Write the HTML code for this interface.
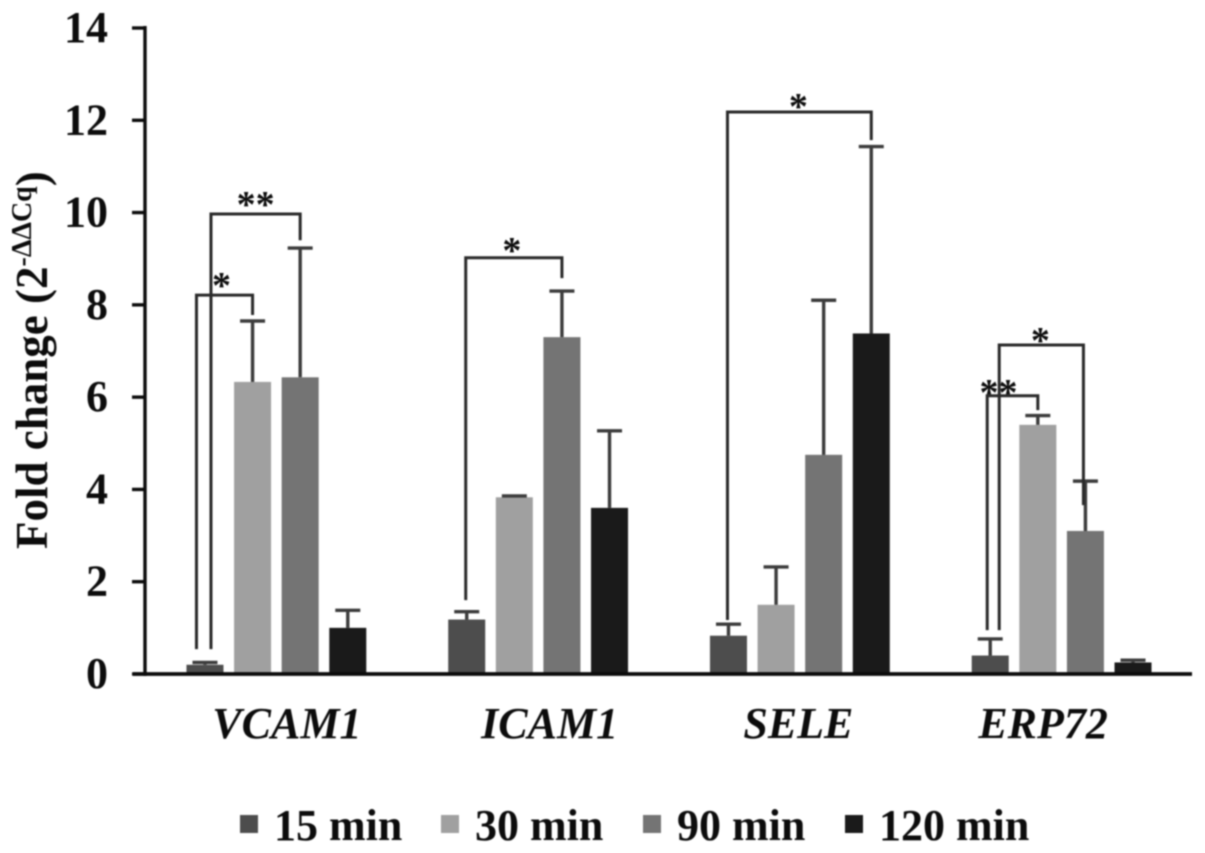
<!DOCTYPE html>
<html lang="en">
<head>
<meta charset="utf-8">
<title>Fold change chart</title>
<style>
html,body{margin:0;padding:0;background:#fff;width:1205px;height:853px;overflow:hidden}
svg{display:block;filter:blur(0.9px)}
text{font-family:"Liberation Serif",serif;font-weight:bold;fill:#0c0c0c}
</style>
</head>
<body>
<svg id="chart" xmlns="http://www.w3.org/2000/svg" width="1205" height="853" viewBox="0 0 1205 853"></svg>
<script>
const categories = ["VCAM1", "ICAM1", "SELE", "ERP72"];
const seriesNames = ["15 min", "30 min", "90 min", "120 min"];
const seriesColors = ["#4d4d4d", "#a0a0a0", "#747474", "#1a1a1a"];
const values15 = [0.2, 1.18, 0.83, 0.4];
const values30 = [6.33, 3.83, 1.5, 5.4];
const values90 = [6.43, 7.3, 4.75, 3.1];
const values120 = [1.0, 3.6, 7.38, 0.25];
const errorTop15 = [0.25, 1.35, 1.08, 0.76];
const errorTop30 = [7.65, 3.86, 2.32, 5.6];
const errorTop90 = [9.23, 8.3, 8.1, 4.18];
const errorTop120 = [1.38, 5.27, 11.43, 0.3];
const yTicks = [0, 2, 4, 6, 8, 10, 12, 14];
const bracketGroups = [0, 0, 1, 2, 3, 3];
const bracketToSeries = [1, 2, 2, 3, 1, 2];
const bracketTops = [8.21, 9.97, 9.02, 12.18, 6.03, 7.13];
const bracketLeftEnds = [0.54, 0.54, 1.6, 1.17, 0.95, 0.95];
const bracketRightEnds = [7.78, 9.4, 8.58, 11.57, 5.72, 3.66];
const bracketLabels = ["*", "**", "*", "*", "**", "*"];

const NS = "http://www.w3.org/2000/svg";
const svg = document.getElementById("chart");
const allValues = [values15, values30, values90, values120];
const allErrors = [errorTop15, errorTop30, errorTop90, errorTop120];
const bracketLeftShift = [-8.5, 6, -1, -1, -3, 9];
const bracketRightShift = [0, 0, 0, 0, 0, -2];
const starShiftX = [-3, 0, -2, -1, -14, -1];
const starShiftY = [-3, -3, -1, 1, 3, 2];
const categoryLabelShift = [11, 12, -1, -18];

const plot = {left: 145, right: 1192, top: 28, bottom: 674, max: 14};
const yScale = v => plot.bottom - v / plot.max * (plot.bottom - plot.top);
const groupCenter = g => plot.left + (plot.right - plot.left) / categories.length * (g + 0.5);
const barCenter = (g, s) => groupCenter(g) + (s - 1.5) * 47.6 + 0.5;
const barWidth = 37;
const fontSize = 44;

function make(tag, attrs, text) {
  const el = document.createElementNS(NS, tag);
  for (const k in attrs) el.setAttribute(k, attrs[k]);
  if (text !== undefined) el.textContent = text;
  svg.appendChild(el);
  return el;
}
function line(x1, y1, x2, y2, stroke, w) {
  return make("line", {x1, y1, x2, y2, stroke, "stroke-width": w});
}

// bars and error bars
categories.forEach((cat, g) => {
  allValues.forEach((vals, s) => {
    const cx = barCenter(g, s);
    const top = yScale(vals[g]);
    const bar = make("rect", {x: cx - barWidth / 2, y: top, width: barWidth, height: plot.bottom - top, fill: seriesColors[s]});
    
    
    const errY = yScale(allErrors[s][g]);
    const stem = line(cx, top, cx, errY, "#3c3c3c", 3.4);
    
    
    const cap = line(cx - 12.5, errY, cx + 12.5, errY, "#3c3c3c", 3.4);
    
    
  });
  const lab = make("text", {x: groupCenter(g) + categoryLabelShift[g], y: 738, "text-anchor": "middle", "font-size": fontSize, "font-style": "italic"}, cat);
  
  
});

// axes
const yAxis = line(plot.left, plot.top - 2, plot.left, plot.bottom + 2, "#0c0c0c", 3.4);


const xAxis = line(133, plot.bottom, plot.right, plot.bottom, "#0c0c0c", 3.8);


yTicks.forEach(t => {
  const y = yScale(t);
  const tick = line(132, y, plot.left, y, "#0c0c0c", 3.4);
  
  
  const lab = make("text", {x: 108, y: y + 14, "text-anchor": "end", "font-size": fontSize}, String(t));
  
  
});

// significance brackets
bracketGroups.forEach((g, i) => {
  const xl = barCenter(g, 0) + bracketLeftShift[i];
  const xr = barCenter(g, bracketToSeries[i]) + bracketRightShift[i];
  const yt = yScale(bracketTops[i]);
  const path = make("path", {
    d: "M" + xl + " " + yScale(bracketLeftEnds[i]) + " V" + yt + " H" + xr + " V" + yScale(bracketRightEnds[i]),
    fill: "none", stroke: "#2a2a2a", "stroke-width": 3
  });
  
  
  const star = make("text", {x: (xl + xr) / 2 + starShiftX[i], y: yt + 6 + starShiftY[i], "text-anchor": "middle", "font-size": 38, "font-weight": "normal"}, bracketLabels[i]);
  
  
});

// y axis title
const yTitle = make("text", {transform: "translate(47,549) rotate(-90)", "font-size": 45});


const t1 = document.createElementNS(NS, "tspan");
t1.textContent = "Fold change (2";
yTitle.appendChild(t1);
const t2 = document.createElementNS(NS, "tspan");
t2.setAttribute("font-size", "28");
t2.setAttribute("dy", "-16");
t2.textContent = "-ΔΔCq";
yTitle.appendChild(t2);
const t3 = document.createElementNS(NS, "tspan");
t3.setAttribute("dy", "16");
t3.textContent = ")";
yTitle.appendChild(t3);

// legend
const legendSwatchX = [240, 441, 643, 845];
seriesNames.forEach((name, s) => {
  const sw = make("rect", {x: legendSwatchX[s], y: 815, width: 18, height: 18, fill: seriesColors[s]});
  
  
  const lab = make("text", {x: legendSwatchX[s] + 34, y: 840, "font-size": fontSize}, name);
  
  
});
</script>
</body>
</html>
